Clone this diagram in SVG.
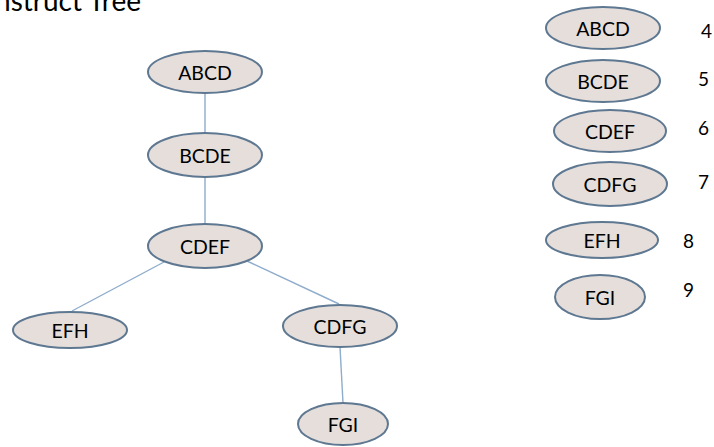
<svg xmlns="http://www.w3.org/2000/svg" width="714" height="447" viewBox="0 0 714 447">
<style>
.n ellipse{fill:#e5dedb;stroke:#5e7892;stroke-width:2}
.n text{font-family:Lato,"Open Sans",sans-serif;font-size:19.5px;fill:#000;text-anchor:middle;dominant-baseline:central}
.num{font-family:Lato,"Open Sans",sans-serif;font-size:19px;fill:#000}
#edges line{stroke:#8eaccc;stroke-width:1.4}
</style>
<rect width="714" height="447" fill="#fff"/>
<text x="141" y="11" font-family="Lato,'Open Sans',sans-serif" font-size="28" text-anchor="end" fill="#000">Construct Tree</text>
<g id="edges">
<line x1="205" y1="92" x2="205" y2="133"/>
<line x1="205" y1="177" x2="205" y2="224"/>
<line x1="164" y1="262" x2="72" y2="311"/>
<line x1="247" y1="261" x2="339" y2="304"/>
<line x1="340" y1="347" x2="343" y2="403"/>
</g>
<g id="t-abcd" class="n"><ellipse cx="205" cy="72" rx="57" ry="21"/><text x="205" y="72">ABCD</text></g>
<g id="t-bcde" class="n"><ellipse cx="205" cy="155" rx="57" ry="22"/><text x="205" y="155">BCDE</text></g>
<g id="t-cdef" class="n"><ellipse cx="205" cy="246" rx="57" ry="22"/><text x="205" y="246">CDEF</text></g>
<g id="t-efh" class="n"><ellipse cx="70" cy="330" rx="57" ry="18"/><text x="70" y="330">EFH</text></g>
<g id="t-cdfg" class="n"><ellipse cx="340" cy="326" rx="57" ry="21"/><text x="340" y="326">CDFG</text></g>
<g id="t-fgi" class="n"><ellipse cx="343" cy="424" rx="45" ry="21"/><text x="343" y="424">FGI</text></g>
<g id="l-abcd" class="n"><ellipse cx="603" cy="28" rx="57" ry="21"/><text x="603" y="28">ABCD</text></g>
<g id="l-bcde" class="n"><ellipse cx="603" cy="81" rx="57" ry="21"/><text x="603" y="81">BCDE</text></g>
<g id="l-cdef" class="n"><ellipse cx="610" cy="131" rx="56" ry="21"/><text x="610" y="131">CDEF</text></g>
<g id="l-cdfg" class="n"><ellipse cx="610" cy="184" rx="57" ry="22"/><text x="610" y="184">CDFG</text></g>
<g id="l-efh" class="n"><ellipse cx="602" cy="240" rx="56" ry="18"/><text x="602" y="240">EFH</text></g>
<g id="l-fgi" class="n"><ellipse cx="600" cy="297" rx="45" ry="22"/><text x="600" y="297">FGI</text></g>
<text class="num" x="701" y="38">4</text>
<text class="num" x="698" y="86">5</text>
<text class="num" x="698" y="135">6</text>
<text class="num" x="698" y="189">7</text>
<text class="num" x="683" y="248">8</text>
<text class="num" x="683" y="297">9</text>
</svg>
